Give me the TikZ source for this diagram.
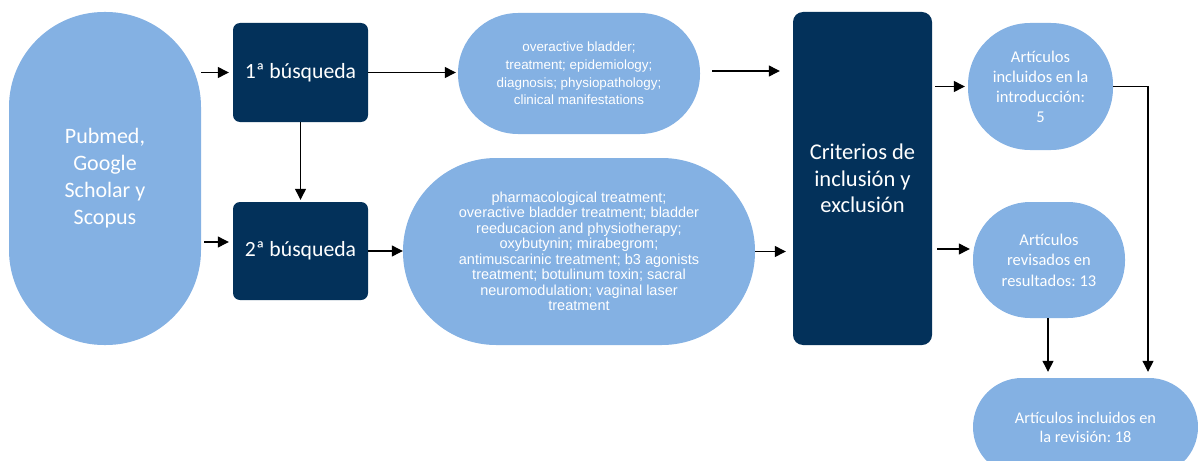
\documentclass[tikz,border=0pt]{standalone}
\usepackage{fontspec}
\setmainfont{Carlito}
\newfontfamily\arialfont{Liberation Sans}
\usetikzlibrary{arrows.meta}
\frenchspacing

\definecolor{lightblue}{RGB}{132,177,227}
\definecolor{navy}{RGB}{3,49,90}

\begin{document}
\begin{tikzpicture}[x=1pt, y=-1pt,
  pill/.style={fill=lightblue, text=white, align=center, inner sep=0pt},
  darkbox/.style={fill=navy, text=white, align=center, inner sep=0pt, rounded corners=7pt},
  arr/.style={line width=1.2pt, -{Triangle[length=11pt, width=11pt]}}]

\useasboundingbox (0,0) rectangle (1198,460);

% bases de datos
\node[pill, minimum width=192pt, minimum height=333pt, rounded corners=95pt,
      font=\fontsize{22}{27}\selectfont] (db) at (105,178.5)
      {Pubmed,\\Google\\Scholar y\\Scopus};

% busquedas
\node[darkbox, minimum width=135pt, minimum height=99pt,
      font=\fontsize{21.7}{26}\selectfont] (b1) at (300.5,72.5) {1ª búsqueda};
\node[darkbox, minimum width=135pt, minimum height=98pt,
      font=\fontsize{21.7}{26}\selectfont] (b2) at (300.5,251) {2ª búsqueda};

% palabras clave
\node[pill, minimum width=242pt, minimum height=121pt, rounded corners=60pt,
      font=\arialfont\fontsize{13.4}{17.7}\selectfont] (kw1) at (579,73.5)
      {overactive bladder;\\treatment; epidemiology;\\diagnosis; physiopathology;\\clinical manifestations};
\node[pill, minimum width=352pt, minimum height=187pt, rounded corners=93pt,
      font=\arialfont\fontsize{14.5}{15.5}\selectfont] (kw2) at (579,251.5)
      {pharmacological treatment;\\overactive bladder treatment; bladder\\reeducacion and physiotherapy;\\oxybutynin; mirabegrom;\\antimuscarinic treatment; b3 agonists\\treatment; botulinum toxin; sacral\\neuromodulation; vaginal laser\\treatment};

% criterios
\node[darkbox, minimum width=139pt, minimum height=333pt, rounded corners=10pt,
      font=\fontsize{22.5}{26.5}\selectfont] (crit) at (862.5,178.5)
      {Criterios de\\inclusión y\\exclusión};

% resultados
\node[pill, minimum width=145pt, minimum height=127pt, rounded corners=62pt,
      font=\fontsize{16.5}{20}\selectfont] (r1) at (1040.5,86.5)
      {Artículos\\incluidos en la\\introducción:\\5};
\node[pill, minimum width=152pt, minimum height=116pt, rounded corners=57pt,
      font=\fontsize{16.5}{20.5}\selectfont] (r2) at (1049,260)
      {Artículos\\revisados en\\resultados: 13};
\node[pill, minimum width=225pt, minimum height=98pt, rounded corners=49pt,
      font=\fontsize{16.3}{19}\selectfont] (fin) at (1085.5,427)
      {Artículos incluidos en\\la revisión: 18};

% flechas
\draw[arr, shorten >=4pt] (db.east |- b1.west) -- (b1.west);
\draw[arr, shorten <=3pt, shorten >=4pt] ([yshift=9pt]db.east |- b2.west) -- ([yshift=9pt]b2.west);
\draw[arr, shorten >=2pt] (b1) -- (b2);
\draw[arr, shorten >=2pt] (b1.east) -- (b1.east -| kw1.west);
\draw[arr, shorten <=12pt, shorten >=13pt] ([yshift=2.5pt]kw1.east) -- ([yshift=2.5pt]kw1.east -| crit.west);
\draw[arr] (b2.east) -- (b2.east -| kw2.west);
\draw[arr, shorten >=7pt] (kw2.east) -- (kw2.east -| crit.west);
\draw[arr, shorten <=3pt, shorten >=3pt] (crit.east |- r1.west) -- (r1.west);
\draw[arr, shorten <=5pt, shorten >=3pt] ([yshift=11pt]crit.east |- r2.west) -- ([yshift=11pt]r2.west);
\draw[arr, shorten >=6pt] (r2.south -| 1048,0) -- (fin.north -| 1048,0);
\draw[arr, shorten >=6pt] (r1.east) -| (fin.north -| 1148,0);

\end{tikzpicture}
\end{document}
